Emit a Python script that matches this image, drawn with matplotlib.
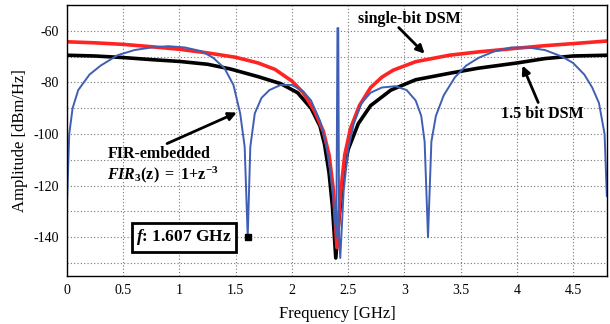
import numpy as np
from matplotlib import pyplot as plt

plt.rcParams['font.family'] = 'Liberation Serif'
plt.rcParams['axes.unicode_minus'] = False
plt.rcParams['mathtext.fontset'] = 'custom'
plt.rcParams['mathtext.rm'] = 'Liberation Serif:bold'
plt.rcParams['mathtext.it'] = 'Liberation Serif:italic:bold'
plt.rcParams['mathtext.bf'] = 'Liberation Serif:bold'

# single-bit DSM (red)
red_f = [0, 0.25, 0.5, 0.75, 1.0, 1.25, 1.5, 1.7, 1.85, 2.0, 2.1, 2.2, 2.28, 2.33,
         2.37, 2.40, 2.43, 2.47, 2.52, 2.6, 2.7, 2.8, 2.9, 3.1, 3.4, 3.66, 4.0,
         4.25, 4.5, 4.8]
red_a = [-64.3, -64.7, -65.3, -66.2, -67.2, -68.6, -70.3, -72.5, -75.0, -79.5, -84,
         -91, -99, -108, -122, -144, -124, -108, -98, -89, -82, -78, -75.3, -72,
         -69.5, -68.2, -66.8, -65.8, -65, -64]

# 1.5 bit DSM (black)
blk_f = [0, 0.25, 0.5, 0.75, 1.0, 1.25, 1.45, 1.7, 1.9, 2.05, 2.17, 2.25, 2.29,
         2.33, 2.36, 2.39, 2.42, 2.46, 2.5, 2.59, 2.7, 2.88, 3.1, 3.4, 3.66, 4.0,
         4.25, 4.5, 4.8]
blk_a = [-69.5, -69.8, -70.4, -71.2, -71.9, -73.0, -74.8, -77.8, -80.5, -84, -90,
         -97, -104, -115, -128, -148, -132, -115, -106, -96, -89, -83, -79, -76.5,
         -74.5, -72.5, -70.8, -69.8, -69.5]

# FIR-embedded (blue)
blu_f = [0, 0.02, 0.05, 0.1, 0.2, 0.3, 0.45, 0.6, 0.75, 0.9, 1.05, 1.2, 1.3, 1.4,
         1.48, 1.54, 1.58, 1.607, 1.63, 1.67, 1.73, 1.8, 1.9, 2.0, 2.1, 2.17, 2.25,
         2.3, 2.34, 2.37, 2.395, 2.405, 2.412, 2.42, 2.43, 2.46, 2.5, 2.55, 2.62,
         2.7, 2.8, 2.92, 3.02, 3.1, 3.15, 3.18, 3.21, 3.24, 3.28, 3.35, 3.45, 3.55,
         3.66, 3.8, 3.95, 4.1, 4.25, 4.4, 4.5, 4.6, 4.67, 4.73, 4.78, 4.8]
blu_a = [-127, -100, -90, -83, -77, -73.5, -69.5, -67.5, -66.5, -66, -66.5, -68,
         -70.5, -74.5, -81, -92, -105, -140, -105, -92, -86, -83, -81, -81, -83.5,
         -87, -95, -103, -114, -126, -140, -59, -59, -140, -148, -122, -106, -96,
         -88, -84, -82, -81.5, -83, -87, -93, -103, -140, -103, -93, -85, -78,
         -73.5, -70.5, -68, -66.5, -66.5, -67.5, -70, -72.5, -77, -82, -88, -100,
         -124]

null_f = 1.607
null_a = -140

fig = plt.figure(figsize=(6.1, 3.24), dpi=100)
ax = fig.add_axes([0.1098, 0.148, 0.885, 0.837])

ax.plot(blk_f, blk_a, color='black', lw=2.6)
ax.plot(red_f, red_a, color='#ff2424', lw=2.6)
ax.plot(blu_f, blu_a, color='#3f5fb5', lw=1.4)
ax.plot([null_f], [null_a], 's', color='black', ms=5)

ax.set_xlim(0, 4.8)
ax.set_ylim(-155, -50)
ax.set_xticks(np.arange(0, 4.6, 0.5))
ax.set_xticklabels(['0', '0.5', '1', '1.5', '2', '2.5', '3', '3.5', '4', '4.5'])
ax.set_yticks([-140, -120, -100, -80, -60])
ax.set_yticks(np.arange(-150, -50, 10), minor=True)
ax.grid(True, which='both', color='#777777', linestyle=(0, (1, 2)), lw=0.8)
ax.tick_params(which='both', direction='in', length=0, labelsize=10, pad=6)
for s in ax.spines.values():
    s.set_linewidth(1.0)

ax.set_xlabel('Frequency [GHz]', fontsize=12, labelpad=6)
ax.set_ylabel('Amplitude [dBm/Hz]', fontsize=12, labelpad=4)

arrow = dict(arrowstyle='-|>', color='black', lw=2, mutation_scale=12,
             shrinkA=0, shrinkB=0)
ax.annotate('', xy=(3.18, -68.9), xytext=(2.95, -58.8), arrowprops=arrow)
ax.annotate('', xy=(4.05, -73.5), xytext=(4.19, -87.8), arrowprops=arrow)
ax.annotate('', xy=(1.51, -91.7), xytext=(0.89, -103.7), arrowprops=arrow)

ax.text(3.04, -55.4, 'single-bit DSM', fontsize=11.5, fontweight='bold',
        ha='center', va='center')
ax.text(4.23, -92.1, '1.5 bit DSM', fontsize=11.5, fontweight='bold',
        ha='center', va='center')
ax.text(0.82, -107.6, 'FIR-embedded', fontsize=11.5, fontweight='bold',
        ha='center', va='center')
ax.text(0.85, -115.8, r'$\mathit{FIR}_{\mathrm{3}}\mathrm{(z)\ =\ 1{+}z^{-3}}$',
        fontsize=11.5, ha='center', va='center')
ax.text(1.04, -140, r'$\mathit{f}$: 1.607 GHz', fontsize=12.5, fontweight='bold',
        ha='center', va='center',
        bbox=dict(boxstyle='square,pad=0.25', fc='white', ec='black', lw=2))

fig.savefig('out.png', dpi=100)
